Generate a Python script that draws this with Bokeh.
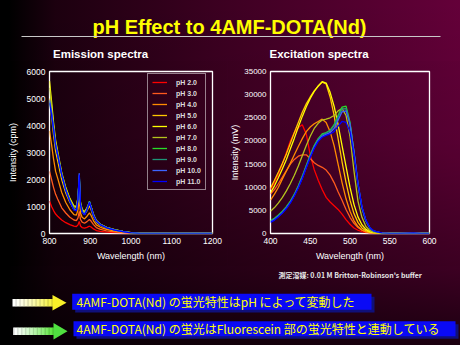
from bokeh.plotting import figure
from bokeh.layouts import column, row
from bokeh.models import Range1d, FixedTicker, Legend, LegendItem
from bokeh.core.properties import value
from bokeh.embed import file_html
from bokeh.resources import INLINE

# ---------------- data ----------------
ph_labels = ["pH 2.0", "pH 3.0", "pH 4.0", "pH 5.0", "pH 6.0",
             "pH 7.0", "pH 8.0", "pH 9.0", "pH 10.0", "pH 11.0"]
ph_colors = ["#ff0000", "#ff5a1e", "#ff8c00", "#ffc800", "#ffff00",
             "#b4c31e", "#28dc28", "#1e9678", "#3c64ff", "#0000ff"]

em_wl = [800, 805, 810, 815, 820, 830, 840, 850, 860, 866, 870, 873, 876, 880,
         886, 892, 898, 902, 908, 915, 925, 940, 960, 980, 1000, 1020, 1200]
em_ph2 = [1200, 1000, 850, 720, 640, 500, 400, 330, 270, 260, 320, 450, 280, 220,
          200, 230, 270, 240, 170, 110, 80, 50, 30, 15, 5, 0, 0]
em_ph3 = [2300, 2000, 1700, 1450, 1280, 950, 760, 600, 500, 480, 580, 820, 520, 420,
          380, 440, 520, 460, 330, 220, 150, 100, 60, 30, 10, 0, 0]
em_ph4 = [3800, 3300, 2750, 2300, 2050, 1520, 1150, 880, 700, 680, 880, 1300, 760, 600,
          540, 640, 760, 670, 470, 320, 230, 150, 90, 50, 15, 0, 0]
em_ph5 = [5000, 4350, 3650, 3050, 2700, 2000, 1500, 1150, 900, 880, 1180, 1800, 1020, 800,
          710, 840, 1020, 890, 620, 420, 300, 200, 120, 70, 25, 3, 0]
em_ph6 = [5650, 4900, 4100, 3450, 3050, 2250, 1700, 1300, 1020, 1000, 1350, 2050, 1150, 900,
          800, 950, 1150, 1000, 700, 480, 340, 230, 140, 80, 30, 5, 0]
em_ph7 = [5400, 4750, 3950, 3350, 2950, 2180, 1650, 1260, 990, 970, 1320, 2000, 1120, 880,
          780, 930, 1130, 980, 690, 470, 335, 225, 135, 78, 28, 4, 0]
em_ph8 = [4900, 4500, 3900, 3300, 2950, 2200, 1620, 1220, 900, 870, 1300, 2150, 1100, 820,
          720, 900, 1200, 990, 680, 460, 330, 220, 130, 75, 25, 3, 0]
em_ph9 = [4800, 4450, 3850, 3250, 2900, 2170, 1600, 1200, 880, 850, 1280, 2150, 1080, 800,
          700, 880, 1170, 970, 670, 455, 325, 215, 128, 72, 25, 3, 0]
em_ph10 = [4950, 4500, 3900, 3300, 2950, 2200, 1620, 1210, 890, 860, 1300, 2230, 1090, 810,
           710, 890, 1180, 980, 680, 460, 330, 220, 130, 75, 25, 3, 0]
em_ph11 = [4850, 4400, 3850, 3250, 2900, 2160, 1590, 1190, 870, 840, 1270, 2180, 1070, 790,
           690, 870, 1150, 960, 660, 450, 320, 212, 126, 72, 24, 3, 0]
em_series = [em_ph2, em_ph3, em_ph4, em_ph5, em_ph6, em_ph7, em_ph8, em_ph9, em_ph10, em_ph11]

ex_wl = [400, 405, 410, 415, 420, 425, 430, 435, 440, 445, 450, 455, 460, 465, 470, 475, 480,
         485, 490, 495, 500, 505, 510, 515, 520, 525, 530, 540, 550, 560, 570, 580, 590, 600]
ex_ph2 = [9500, 11000, 12800, 15000, 17500, 20000, 21800, 22900, 23500, 21500, 17000, 13800,
          11500, 9500, 7800, 6800, 6000, 5200, 4200, 3000, 2000, 1200, 700, 400, 200, 100, 50,
          0, 0, 0, 0, 0, 0, 0]
ex_ph3 = [8500, 9500, 10800, 12200, 13600, 15000, 16000, 16700, 17000, 17000, 16200, 15300,
          14700, 14300, 13700, 12600, 11000, 9000, 7200, 5200, 3500, 2200, 1300, 700, 350, 150,
          60, 0, 0, 0, 0, 0, 0, 0]
ex_ph4 = [7200, 8500, 10000, 11800, 13500, 15200, 17000, 18800, 20500, 22000, 23000, 23700,
          24200, 24700, 24000, 22000, 19000, 15000, 11000, 7500, 4800, 2800, 1500, 750, 350,
          150, 60, 0, 0, 0, 0, 0, 0, 0]
ex_ph5 = [9800, 11500, 13300, 15200, 17200, 19500, 21800, 24000, 26200, 28000, 29500, 30800,
          31800, 32700, 32300, 29500, 25500, 20500, 15500, 11000, 7200, 4300, 2400, 1200, 600,
          250, 100, 0, 0, 0, 0, 0, 0, 0]
ex_ph6 = [8800, 10300, 12100, 14000, 16000, 18300, 20600, 23000, 25300, 27400, 29200, 30700,
          31900, 32800, 32500, 30500, 27500, 23500, 19000, 14500, 10000, 6300, 3600, 1900, 900,
          400, 150, 20, 0, 0, 0, 0, 0, 0]
ex_ph7 = [4800, 5600, 6600, 7800, 9200, 10800, 12600, 14600, 16800, 19000, 21000, 22700,
          23800, 24500, 24700, 25000, 25500, 26500, 27000, 25500, 21000, 13500, 7000, 3500,
          1500, 600, 250, 30, 0, 0, 0, 0, 0, 0]
ex_ph8 = [2800, 3300, 4000, 4800, 5800, 7000, 8500, 10300, 12400, 14700, 17000, 19000, 20500,
          21500, 21800, 22300, 23500, 25500, 27300, 27500, 24000, 17500, 10500, 5500, 2700,
          1200, 500, 100, 30, 0, 0, 0, 0, 0]
ex_ph9 = [2700, 3200, 3900, 4700, 5700, 6900, 8400, 10200, 12300, 14600, 16900, 18900, 20400,
          21300, 21700, 22200, 23300, 25200, 26900, 27000, 23800, 17600, 10700, 5600, 2700,
          1200, 500, 100, 30, 0, 0, 0, 0, 0]
ex_ph10 = [2500, 3000, 3700, 4500, 5500, 6700, 8200, 10000, 12000, 14300, 16600, 18600, 20100,
           21000, 21400, 21800, 22700, 24500, 26300, 26500, 23600, 17700, 10900, 5700, 2800,
           1200, 500, 100, 30, 0, 0, 0, 0, 0]
ex_ph11 = [2400, 2900, 3600, 4400, 5400, 6600, 8100, 9900, 11900, 14200, 16400, 18400, 19900,
           20800, 21200, 21500, 22000, 23200, 24200, 24000, 22000, 17000, 10800, 5800, 2900,
           1300, 550, 120, 40, 0, 80, 120, 0, 0]
ex_series = [ex_ph2, ex_ph3, ex_ph4, ex_ph5, ex_ph6, ex_ph7, ex_ph8, ex_ph9, ex_ph10, ex_ph11]

em_xticks = [800, 900, 1000, 1100, 1200]
em_yticks = [0, 1000, 2000, 3000, 4000, 5000, 6000]
ex_xticks = [400, 450, 500, 550, 600]
ex_yticks = [0, 5000, 10000, 15000, 20000, 25000, 30000, 35000]

title_text = "pH Effect to 4AMF-DOTA(Nd)"
sub_left = "Emission spectra"
sub_right = "Excitation spectra"
note_text = "測定溶媒: 0.01 M Britton-Robinson's buffer"
msg1 = "4AMF-DOTA(Nd) の蛍光特性はpH によって変動した"
msg2 = "4AMF-DOTA(Nd) の蛍光はFluorescein 部の蛍光特性と連動している"

LAT = "Liberation Sans"
CJK = "Noto Sans CJK JP"


def blank(width, height, y0, y1):
    p = figure(width=width, height=height, x_range=Range1d(0, width),
               y_range=Range1d(y1, y0), output_backend="svg", toolbar_location=None,
               min_border=0, x_axis_type=None, y_axis_type=None,
               border_fill_color=None, background_fill_color=None, outline_line_color=None)
    return p


def chart(width, xr, yr, xt, yt, ylabel, mbl, mbr, ylab_size, ylab_standoff):
    p = figure(width=width, height=206, x_range=Range1d(*xr), y_range=Range1d(*yr),
               output_backend="svg", toolbar_location=None,
               min_border_left=mbl, min_border_right=mbr, min_border_top=11,
               min_border_bottom=33, border_fill_color="#000000", border_fill_alpha=0.01,
               background_fill_color=None,
               outline_line_color="white", outline_line_width=1.3)
    p.grid.visible = False
    p.xaxis.ticker = FixedTicker(ticks=xt)
    p.yaxis.ticker = FixedTicker(ticks=yt)
    p.xaxis.axis_label = "Wavelength (nm)"
    p.yaxis.axis_label = ylabel
    for ax in (p.xaxis[0], p.yaxis[0]):
        ax.axis_line_color = None
        ax.major_tick_line_color = None
        ax.minor_tick_line_color = None
        ax.major_tick_out = 0
        ax.major_tick_in = 0
        ax.minor_tick_out = 0
        ax.minor_tick_in = 0
        ax.major_label_text_color = "white"
        ax.major_label_text_font = LAT
        ax.major_label_text_font_size = "8.5px"
        ax.axis_label_text_color = "white"
        ax.axis_label_text_font = LAT
        ax.axis_label_text_font_size = "9px"
        ax.axis_label_text_font_style = "normal"
    p.yaxis.major_label_text_font_size = ylab_size
    p.xaxis.major_label_standoff = 4
    p.xaxis.axis_label_standoff = 4
    p.yaxis.major_label_standoff = 4
    p.yaxis.axis_label_standoff = ylab_standoff
    return p


# ---------------- top strip ----------------
top = blank(460, 60, 0, 60)
top.text(x=[229], y=[26.5], text=[title_text], text_align="center",
         text_baseline="alphabetic", text_font=value(LAT), text_font_style="bold",
         text_font_size="20px", text_color="#ffff00")
top.segment(x0=[21], y0=[36], x1=[440], y1=[36], line_color="#c8c8c8", line_width=1.2)
top.text(x=[52.5, 269], y=[53.3, 53.3], text=[sub_left, sub_right], text_align="left",
         text_baseline="alphabetic", text_font=value(LAT), text_font_style="bold",
         text_font_size="11.5px", text_color="white")

# ---------------- emission ----------------
em = chart(227, (800, 1200), (0, 6000), em_xticks, em_yticks, "Intensity (cpm)", 49, 15,
           "8.5px", 6)
items = []
for lab, col, ys in zip(ph_labels, ph_colors, em_series):
    r = em.line(em_wl, ys, line_color=col, line_width=1.3)
    items.append(LegendItem(label=lab, renderers=[r]))
leg = Legend(items=items, location=(98, 43), orientation="vertical", padding=4, spacing=3,
             label_height=8, glyph_height=8, glyph_width=15, label_standoff=9,
             label_text_font=LAT, label_text_font_size="7px", label_text_font_style="bold",
             label_text_color="#dddddd", background_fill_alpha=0,
             border_line_color="white", border_line_width=1, margin=0)
em.add_layout(leg)

# ---------------- excitation ----------------
ex = chart(233, (400, 600), (0, 35000), ex_xticks, ex_yticks, "Intensity (mV)", 39, 31,
           "8px", 1)
for col, ys in zip(ph_colors, ex_series):
    ex.line(ex_wl, ys, line_color=col, line_width=1.3)

# ---------------- bottom strip ----------------
bot = blank(460, 79, 266, 345)
bot.text(x=[278], y=[274.3], text=[note_text], text_align="left", text_baseline="middle",
         text_font=value(CJK), text_font_style="bold", text_font_size="7px",
         text_color="#e6e6e6")


def hexmix(c0, c1, t):
    a = [int(c0[i:i + 2], 16) for i in (1, 3, 5)]
    b = [int(c1[i:i + 2], 16) for i in (1, 3, 5)]
    return "#%02x%02x%02x" % tuple(round(a[k] + (b[k] - a[k]) * t) for k in range(3))


def arrow(x0, x1, xt, yc, half_shaft, half_head, c_end, c_head):
    n = 30
    w = (x1 - x0) / n
    lefts = [x0 + i * w for i in range(n)]
    rights = [x0 + (i + 1) * w + 0.3 for i in range(n)]
    cols = [hexmix("#ffffff", c_end, min(1.0, (i / (n - 1)) ** 1.3)) for i in range(n)]
    bot.quad(left=lefts, right=rights, top=[yc - half_shaft] * n, bottom=[yc + half_shaft] * n,
             fill_color=cols, line_color=None)
    bot.patch(x=[x1, xt, x1], y=[yc - half_head, yc, yc + half_head], fill_color=c_head,
              line_color=None)


arrow(12, 52, 66, 302.3, 3.7, 7.8, "#f4f03c", "#f8f028")
arrow(12.7, 53, 67, 330.8, 3.8, 8.3, "#5ae63c", "#50e040")

bot.quad(left=[74.7, 76], right=[374, 458], top=[296.3, 323.7], bottom=[312, 338.3],
         fill_color="#10107a", line_color=None)
bot.quad(left=[71.7, 73], right=[371, 455], top=[293.3, 320.7], bottom=[309.2, 335.7],
         fill_color="#0a0af5", line_color=None)
bot.text(x=[76, 76], y=[301.3, 328.3], text=[msg1, msg2], text_align="left",
         text_baseline="middle", text_font=value(CJK), text_font_size="12px",
         text_color="#ffff00")

page = column(top, row(em, ex), bot, width=460, height=345,
              styles={"background": "linear-gradient(to bottom, rgba(0,0,0,0) 0%, "
                                    "rgba(0,0,0,0.1) 40%, rgba(0,0,0,0.4) 78%, "
                                    "rgba(0,0,0,0.72) 100%), "
                                    "linear-gradient(to right, #000000 0%, #000000 2%, "
                                    "#1c000f 12%, #3e0022 50%, #640039 100%)"})

open("out.html", "w").write(file_html(page, INLINE))
